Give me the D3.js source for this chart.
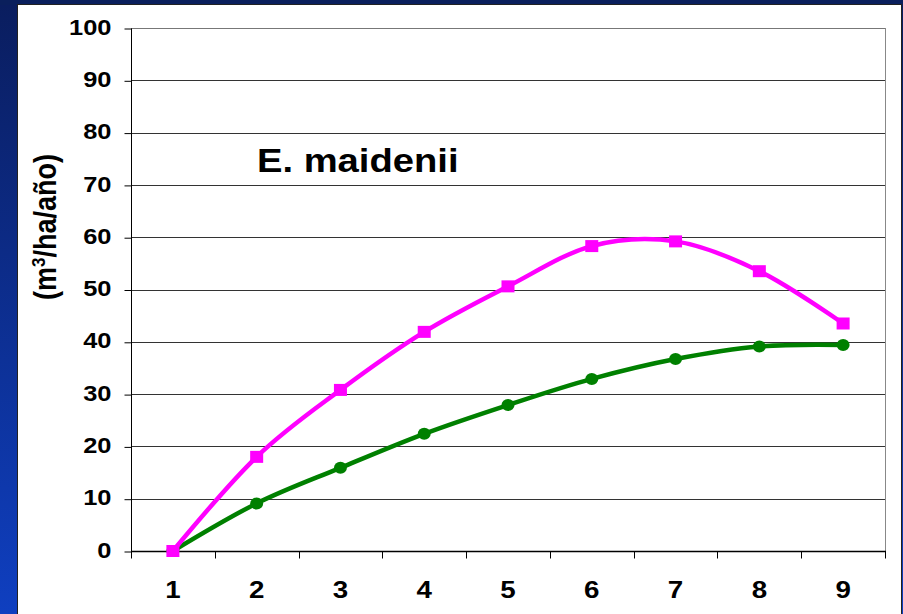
<!DOCTYPE html>
<meta charset="utf-8">
<style>
  body { margin: 0; background: #0b1f66; }
  svg text { font-family: "Liberation Sans", Arial, sans-serif; font-weight: bold; }
</style>
<body>
<script src="https://cdn.jsdelivr.net/npm/d3@7"></script>
<script>

    var width = 903,
        height = 614;

    // datos
    var years = ["1", "2", "3", "4", "5", "6", "7", "8", "9"];
    var pinkValues = [0, 18, 30.8, 41.9, 50.6, 58.3, 59.2, 53.5, 43.5];
    var greenValues = [0, 9.1, 15.9, 22.4, 27.9, 32.9, 36.7, 39.1, 39.4];
    var yTicks = [0, 10, 20, 30, 40, 50, 60, 70, 80, 90, 100];

    var sx = 1.13; // el texto del original esta un poco ensanchado

    var svg = d3.select("body").append("svg")
            .attr("width", width)
            .attr("height", height);

    // fondo azul de la diapositiva
    var grad = svg.append("defs").append("linearGradient")
            .attr("id", "bg")
            .attr("x1", 0).attr("y1", 0).attr("x2", 0).attr("y2", 1);
    grad.append("stop").attr("offset", "0%").attr("stop-color", "#0a1d5e");
    grad.append("stop").attr("offset", "100%").attr("stop-color", "#0f3fc0");

    svg.append("rect").attr("width", width).attr("height", height).attr("fill", "url(#bg)");
    svg.append("rect").attr("x", 0).attr("y", 0).attr("width", width).attr("height", 5).attr("fill", "#0a1f5c");

    // panel blanco
    svg.append("rect")
            .attr("x", 17.5).attr("y", 4.5)
            .attr("width", 884).attr("height", 620)
            .attr("fill", "#fff")
            .attr("stroke", "#222");

    var x = d3.scaleBand()
            .domain(years)
            .range([131, 885]);

    var y = d3.scaleLinear()
            .domain([0, 100])
            .range([551, 28]);

    //lineas de la cuadricula
    svg.append("g")
            .selectAll("line")
            .data(yTicks.slice(1))
            .enter().append("line")
            .attr("x1", 131).attr("x2", 885)
            .attr("y1", function(d) { return Math.round(y(d)) + 0.5; })
            .attr("y2", function(d) { return Math.round(y(d)) + 0.5; })
            .attr("stroke", function(d) { return d == 100 ? "#777" : "#333"; })
            .attr("stroke-width", 1);

    svg.append("line")
            .attr("x1", 885.5).attr("x2", 885.5)
            .attr("y1", 28).attr("y2", 551)
            .attr("stroke", "#888");

    var yAxis = svg.append("g")
            .attr("transform", "translate(131.5,0.5)")
            .call(d3.axisLeft(y).tickValues(yTicks).tickSize(7).tickPadding(13));
    yAxis.selectAll("line").attr("stroke", "#000");
    yAxis.select(".domain").attr("stroke", "#000").attr("d", "M0,28V551");
    yAxis.selectAll(".tick text")
            .attr("font-size", 22.5).attr("fill", "#000").attr("font-family", null)
            .attr("x", null).attr("dy", "0.36em")
            .attr("transform", "translate(-20,-2.5) scale(" + sx + ",1)");

    // eje x con marcas entre categorias
    var xAxis = svg.append("g")
            .attr("transform", "translate(0,551.5)");
    xAxis.append("line")
            .attr("x1", 131).attr("x2", 886)
            .attr("stroke", "#000").attr("stroke-width", 1.5);
    xAxis.selectAll("line.tick")
            .data(years.concat(["end"]))
            .enter().append("line")
            .attr("class", "tick")
            .attr("x1", function(d, i) { return Math.round(131 + i * x.step()) + 0.5; })
            .attr("x2", function(d, i) { return Math.round(131 + i * x.step()) + 0.5; })
            .attr("y1", 0).attr("y2", 7)
            .attr("stroke", "#000");
    xAxis.selectAll("text")
            .data(years)
            .enter().append("text")
            .attr("transform", function(d) {
                return "translate(" + (x(d) + x.bandwidth() / 2) + ",46.5) scale(1.18,1)";
            })
            .attr("text-anchor", "middle")
            .attr("font-size", 23.5)
            .text(function(d) { return d; });

    // series
    var line = d3.line()
            .x(function(d, i) { return x(years[i]) + x.bandwidth() / 2; })
            .y(function(d) { return y(d); })
            .curve(d3.curveCardinal.tension(0));

    svg.append("path")
            .datum(greenValues)
            .attr("d", line)
            .attr("fill", "none")
            .attr("stroke", "#008000")
            .attr("stroke-width", 4.5);

    svg.append("path")
            .datum(pinkValues)
            .attr("d", line)
            .attr("fill", "none")
            .attr("stroke", "#ff00ff")
            .attr("stroke-width", 4.5);

    svg.selectAll("ellipse.green")
            .data(greenValues)
            .enter().append("ellipse")
            .attr("class", "green")
            .attr("cx", function(d, i) { return x(years[i]) + x.bandwidth() / 2; })
            .attr("cy", function(d) { return y(d); })
            .attr("rx", 6.5).attr("ry", 6)
            .attr("fill", "#008000");

    svg.selectAll("rect.pink")
            .data(pinkValues)
            .enter().append("rect")
            .attr("class", "pink")
            .attr("x", function(d, i) { return x(years[i]) + x.bandwidth() / 2 - 6.5; })
            .attr("y", function(d) { return y(d) - 6; })
            .attr("width", 13).attr("height", 12)
            .attr("fill", "#ff00ff");

    // titulo y etiqueta del eje
    svg.append("text")
            .attr("transform", "translate(257,172) scale(1.14,1)")
            .attr("font-size", 33.5)
            .text("E. maidenii");

    var yl = svg.append("text")
            .attr("transform", "translate(56,227) scale(" + sx + ",1) rotate(-90)")
            .attr("text-anchor", "middle")
            .attr("font-size", 27);
    yl.append("tspan").text("(m");
    yl.append("tspan").attr("font-size", 17).attr("dy", -10).text("3");
    yl.append("tspan").attr("dy", 10).text("/ha/año)");

</script>
